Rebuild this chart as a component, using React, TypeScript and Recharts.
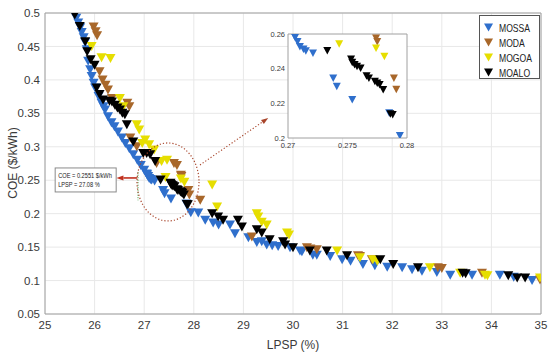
import React from 'react';
import {
  ScatterChart,
  Scatter,
  XAxis,
  YAxis,
  CartesianGrid,
  ReferenceArea,
  ReferenceLine,
  ReferenceDot,
} from 'recharts';

type P = { x: number; y: number };
const mk = (a: number[][]): P[] => a.map(([x, y]) => ({ x, y }));

// LPSP (%), COE ($/kWh)
const MOSSA = mk([
  [25.59, 0.499], [25.63, 0.492], [25.67, 0.485], [25.71, 0.478], [25.74, 0.471], [25.78, 0.463],
  [25.81, 0.456], [25.84, 0.445], [25.87, 0.428], [25.91, 0.415], [25.94, 0.405], [25.98, 0.395],
  [26.01, 0.388], [26.08, 0.375], [26.14, 0.365], [26.18, 0.36], [26.21, 0.355], [26.27, 0.345],
  [26.34, 0.336], [26.4, 0.33], [26.47, 0.322], [26.55, 0.313], [26.62, 0.305], [26.7, 0.297],
  [26.78, 0.288], [26.86, 0.28], [26.93, 0.272], [27.0, 0.265], [27.05, 0.2594], [27.06, 0.258],
  [27.08, 0.2556], [27.1, 0.2527], [27.13, 0.2512], [27.15, 0.2502], [27.21, 0.2489], [27.38, 0.2345],
  [27.41, 0.2297], [27.54, 0.222], [27.85, 0.2144], [27.94, 0.2013], [28.09, 0.201], [28.23, 0.19],
  [28.39, 0.186], [28.5, 0.183], [28.73, 0.183], [28.83, 0.17], [29.1, 0.164], [29.27, 0.157],
  [29.37, 0.158], [29.47, 0.153], [29.58, 0.152], [29.7, 0.151], [29.94, 0.149], [30.14, 0.144],
  [30.18, 0.143], [30.4, 0.138], [30.48, 0.138], [30.75, 0.136], [30.99, 0.131], [31.16, 0.129],
  [31.41, 0.124], [31.65, 0.122], [31.9, 0.12], [32.2, 0.119], [32.4, 0.116], [32.6, 0.114],
  [32.9, 0.112], [33.17, 0.108], [33.61, 0.108], [34.17, 0.108], [34.45, 0.105], [34.82, 0.1],
]);

const MODA = mk([
  [25.98, 0.479], [26.02, 0.472], [26.05, 0.466], [26.1, 0.412], [26.16, 0.4], [26.22, 0.392],
  [26.27, 0.385], [26.35, 0.372], [26.66, 0.365], [26.7, 0.36], [26.72, 0.313], [26.85, 0.3],
  [27.25, 0.275], [27.6, 0.275], [27.66, 0.272], [27.74, 0.2575], [27.75, 0.2556], [27.89, 0.2345],
  [27.91, 0.228], [28.13, 0.22], [29.17, 0.165], [30.28, 0.149], [30.35, 0.147], [30.48, 0.146],
  [31.31, 0.137], [31.35, 0.136], [31.59, 0.131], [32.92, 0.119], [33.0, 0.118], [33.81, 0.111],
  [34.98, 0.101],
]);

const MOGOA = mk([
  [25.94, 0.45], [26.14, 0.433], [26.32, 0.432], [26.51, 0.372], [26.58, 0.36], [26.85, 0.333],
  [26.9, 0.325], [26.96, 0.305], [27.02, 0.31], [27.1, 0.303], [27.2, 0.295], [27.35, 0.278],
  [27.43, 0.2542], [27.46, 0.28], [27.74, 0.2518], [27.81, 0.247], [28.37, 0.243], [28.47, 0.21],
  [29.27, 0.2], [29.3, 0.195], [29.37, 0.187], [29.47, 0.183], [29.88, 0.171], [29.92, 0.168],
  [30.89, 0.144], [31.35, 0.134], [31.61, 0.131], [31.7, 0.129], [32.76, 0.119], [33.37, 0.111],
  [33.87, 0.108], [33.92, 0.107], [34.98, 0.104],
]);

const MOALO = mk([
  [25.6, 0.497], [25.7, 0.48], [25.81, 0.457], [25.85, 0.442], [25.92, 0.43], [26.0, 0.422],
  [26.04, 0.388], [26.1, 0.378], [26.17, 0.37], [26.3, 0.368], [26.35, 0.367], [26.41, 0.362],
  [26.46, 0.358], [26.51, 0.355], [26.56, 0.35], [26.61, 0.348], [26.65, 0.333], [26.78, 0.307],
  [26.98, 0.29], [27.05, 0.29], [27.12, 0.288], [27.22, 0.278], [27.33, 0.2504], [27.53, 0.2454],
  [27.54, 0.2435], [27.56, 0.2422], [27.58, 0.2412], [27.61, 0.2403], [27.66, 0.2358], [27.68, 0.2345],
  [27.73, 0.2326], [27.75, 0.2316], [27.77, 0.2307], [27.8, 0.2278], [27.86, 0.2138], [27.88, 0.2134],
  [28.37, 0.2], [28.49, 0.195], [28.59, 0.19], [28.89, 0.19], [28.97, 0.18], [29.27, 0.176],
  [29.37, 0.171], [29.53, 0.161], [29.8, 0.158], [29.84, 0.153], [30.0, 0.149], [30.34, 0.144],
  [30.68, 0.144], [31.09, 0.137], [31.76, 0.131], [32.02, 0.124], [32.52, 0.119], [33.42, 0.111],
  [33.48, 0.11], [34.34, 0.107], [34.52, 0.104], [34.68, 0.104],
]);

const SERIES_NAMES = ['MOSSA', 'MODA', 'MOGOA', 'MOALO'];
const SERIES_COLORS = ['#2F6FCC', '#A8672A', '#E6DE00', '#000000'];
const SERIES_DATA = [MOSSA, MODA, MOGOA, MOALO];

const X_TICKS = [25, 26, 27, 28, 29, 30, 31, 32, 33, 34, 35];
const Y_TICKS = [0.05, 0.1, 0.15, 0.2, 0.25, 0.3, 0.35, 0.4, 0.45, 0.5];
const INSET_X_TICKS = [0.27, 0.275, 0.28];
const INSET_Y_TICKS = [0.2, 0.22, 0.24, 0.26];
const INSET_X = [0.27, 0.28];
const INSET_Y = [0.2, 0.26];

const ANNOT_LINES = ['COE = 0.2551 $/kWh', 'LPSP = 27.08 %'];

const FONT = '"Liberation Sans", Arial, Helvetica, sans-serif';
const TXT = '#3a3a3a';

const tri = (color: string, w: number, h: number) => (p: any) => {
  const { cx, cy } = p;
  if (cx == null || cy == null || isNaN(cx) || isNaN(cy)) return <g />;
  return (
    <path
      d={`M${cx - w / 2},${cy - h / 2}L${cx + w / 2},${cy - h / 2}L${cx},${cy + h / 2}Z`}
      fill={color}
    />
  );
};

const arrowShape =
  (color: string, width: number, dash: string | undefined, headLen: number, headW: number) =>
  (p: any) => {
    const { x1, y1, x2, y2 } = p;
    if ([x1, y1, x2, y2].some((v) => v == null || isNaN(v))) return <g />;
    const ang = Math.atan2(y2 - y1, x2 - x1);
    const bx = x2 - headLen * Math.cos(ang);
    const by = y2 - headLen * Math.sin(ang);
    const nx = (-Math.sin(ang) * headW) / 2;
    const ny = (Math.cos(ang) * headW) / 2;
    return (
      <g>
        <line x1={x1} y1={y1} x2={bx} y2={by} stroke={color} strokeWidth={width} strokeDasharray={dash} />
        <path d={`M${x2},${y2}L${bx + nx},${by + ny}L${bx - nx},${by - ny}Z`} fill={color} />
      </g>
    );
  };

const dottedLine = (color: string) => (p: any) => {
  const { x1, y1, x2, y2 } = p;
  if ([x1, y1, x2, y2].some((v) => v == null || isNaN(v))) return <g />;
  return <line x1={x1} y1={y1} x2={x2} y2={y2} stroke={color} strokeWidth={1} strokeDasharray="1 1.5" />;
};

const ellipseShape = (p: any) => {
  const { cx, cy } = p;
  if (cx == null || cy == null) return <g />;
  return (
    <ellipse cx={cx} cy={cy} rx={31} ry={39} fill="none" stroke="#A8442A" strokeWidth={1.2} strokeDasharray="1.2 2" />
  );
};

const annotBox = (p: any) => {
  const { cx, cy } = p;
  if (cx == null || cy == null) return <g />;
  return (
    <g>
      <rect x={cx - 30.5} y={cy - 12} width={61} height={24} fill="#fff" stroke="#8a8a8a" strokeWidth={1} />
      {ANNOT_LINES.map((t, i) => (
        <text
          key={t}
          transform={`translate(${cx - 27.5},${cy - 2 + i * 9.5}) scale(0.86,1)`}
          fontSize={6.6}
          fill="#222"
          fontFamily={FONT}
        >
          {t}
        </text>
      ))}
    </g>
  );
};

const inWindow = (d: P) =>
  d.x / 100 >= INSET_X[0] && d.x / 100 <= INSET_X[1] && d.y >= INSET_Y[0] && d.y <= INSET_Y[1];

export default function App() {
  return (
    <div style={{ position: 'relative', width: 550, height: 357, background: '#fff', fontFamily: FONT }}>
      <style>{'body{margin:0;background:#fff}'}</style>
      <ScatterChart width={550} height={357} margin={{ top: 13, right: 9, bottom: 13, left: 5 }}>
        <CartesianGrid stroke="#e8e8e8" />
        <XAxis
          type="number"
          dataKey="x"
          domain={[25, 35]}
          ticks={X_TICKS}
          interval={0}
          allowDataOverflow
          height={30}
          tickSize={0}
          tickMargin={7}
          axisLine={false}
          tickLine={false}
          tick={{ fill: TXT, fontSize: 11.5, fontFamily: FONT }}
        />
        <YAxis
          type="number"
          dataKey="y"
          domain={[0.05, 0.5]}
          ticks={Y_TICKS}
          interval={0}
          allowDataOverflow
          width={40}
          tickSize={0}
          tickMargin={5}
          axisLine={false}
          tickLine={false}
          tick={{ fill: TXT, fontSize: 11.5, fontFamily: FONT }}
        />
        <ReferenceArea x1={25} x2={35} y1={0.05} y2={0.5} fill="none" stroke="#a0a0a0" strokeWidth={1} />
        {SERIES_DATA.map((d, i) => (
          <Scatter
            key={SERIES_NAMES[i]}
            name={SERIES_NAMES[i]}
            data={d}
            fill={SERIES_COLORS[i]}
            shape={tri(SERIES_COLORS[i], 10, 9)}
            isAnimationActive={false}
          />
        ))}
        <ReferenceDot x={27.48} y={0.2474} r={1} shape={ellipseShape} />
        <ReferenceLine
          segment={[
            { x: 28.125, y: 0.2728 },
            { x: 29.5, y: 0.343 },
          ]}
          shape={arrowShape('#A8442A', 1.1, '1.2 2', 7, 5)}
        />
        <ReferenceLine
          segment={[
            { x: 26.875, y: 0.262 },
            { x: 26.875, y: 0.22 },
          ]}
          shape={dottedLine('#3a9a3a')}
        />
        <ReferenceLine
          segment={[
            { x: 26.86, y: 0.2534 },
            { x: 26.44, y: 0.2534 },
          ]}
          shape={arrowShape('#C0301E', 1.6, undefined, 7, 5)}
        />
        <ReferenceDot x={25.82} y={0.2504} r={1} shape={annotBox} />
      </ScatterChart>

      {/* Inset zoom */}
      <div style={{ position: 'absolute', left: 250, top: 26 }}>
        <ScatterChart width={165} height={130} margin={{ top: 8, right: 8, bottom: 4, left: 4 }}>
          <XAxis
            type="number"
            dataKey="x"
            domain={INSET_X}
            ticks={INSET_X_TICKS}
            interval={0}
            allowDataOverflow
            height={14}
            tickSize={0}
            tickMargin={5}
            axisLine={false}
            tickLine={false}
            tick={{ fill: TXT, fontSize: 7.5, fontFamily: FONT }}
          />
          <YAxis
            type="number"
            dataKey="y"
            domain={INSET_Y}
            ticks={INSET_Y_TICKS}
            interval={0}
            allowDataOverflow
            width={34}
            tickSize={0}
            tickMargin={3}
            axisLine={false}
            tickLine={false}
            tick={{ fill: TXT, fontSize: 7.5, fontFamily: FONT }}
          />
          <ReferenceArea
            x1={INSET_X[0]}
            x2={INSET_X[1]}
            y1={INSET_Y[0]}
            y2={INSET_Y[1]}
            fill="#fff"
            fillOpacity={1}
            stroke="#a0a0a0"
            strokeWidth={1}
          />
          {SERIES_DATA.map((d, i) => (
            <Scatter
              key={SERIES_NAMES[i]}
              name={SERIES_NAMES[i]}
              data={d.filter(inWindow).map((p) => ({ x: p.x / 100, y: p.y }))}
              fill={SERIES_COLORS[i]}
              shape={tri(SERIES_COLORS[i], 8, 7.5)}
              isAnimationActive={false}
            />
          ))}
        </ScatterChart>
      </div>

      {/* Legend */}
      <div
        style={{
          position: 'absolute',
          left: 479,
          top: 15,
          width: 61,
          height: 64,
          background: '#fff',
          border: '1px solid #555',
          boxSizing: 'border-box',
        }}
      >
        <svg width={61} height={64} style={{ display: 'block' }}>
          {SERIES_NAMES.map((n, i) => (
            <g key={n}>
              {tri(SERIES_COLORS[i], 9, 8)({ cx: 8.5, cy: 11.5 + i * 15 })}
              <text
                transform={`translate(19,${15.5 + i * 15}) scale(0.82,1)`}
                fontSize={10.5}
                fill="#222"
                fontFamily={FONT}
              >
                {n}
              </text>
            </g>
          ))}
        </svg>
      </div>

      {/* Axis titles */}
      <svg width={550} height={357} style={{ position: 'absolute', left: 0, top: 0, pointerEvents: 'none' }}>
        <text x={293} y={349} textAnchor="middle" fontSize={12} fill={TXT} fontFamily={FONT}>
          LPSP (%)
        </text>
        <text
          x={0}
          y={0}
          transform="translate(17,163) rotate(-90)"
          textAnchor="middle"
          fontSize={12}
          fill={TXT}
          fontFamily={FONT}
        >
          COE ($/kWh)
        </text>
      </svg>
    </div>
  );
}
